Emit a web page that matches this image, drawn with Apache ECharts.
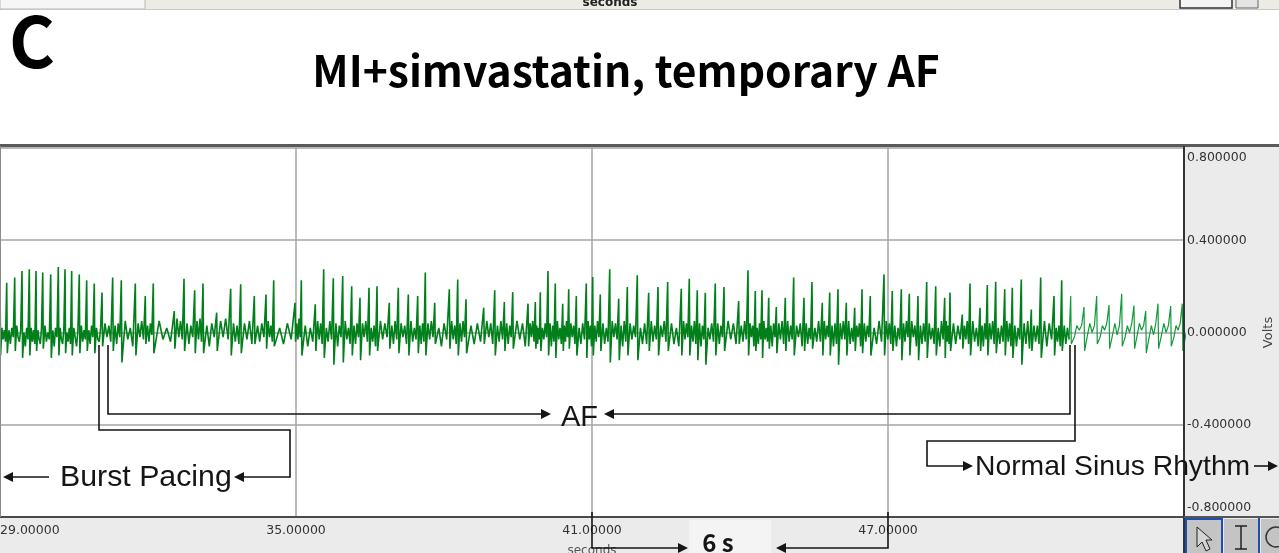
<!DOCTYPE html>
<html><head><meta charset="utf-8">
<script src="https://cdn.jsdelivr.net/npm/echarts@6/dist/echarts.min.js"></script>
<style>html,body{margin:0;padding:0;background:#fff;}#c{width:1279px;height:553px;}</style>
</head><body><div id="c"></div>
<script>
// ---------------- DATA ----------------
const titleText = 'MI+simvastatin, temporary AF';
const panelLetter = 'C';
const xTickLabels = {29:'29.00000', 35:'35.00000', 41:'41.00000', 47:'47.00000', 53:'53.00000'};
const yTickLabels = {'0.8':'0.800000','0.4':'0.400000','0':'0.000000','-0.4':'-0.400000','-0.8':'-0.800000'};
const sinusStart = 50.65; // seconds, start of normal sinus rhythm

// beat (spike) times, seconds
const beatTime = [
 29.000,29.136,29.298,29.446,29.594,29.730,29.866,30.028,30.182,30.318,30.453,30.607,30.757,30.911,31.068,31.284,31.459,31.743,31.945,32.107,32.533,32.730,32.946,33.115,33.392,33.676,
 33.879,34.155,34.392,34.548,34.980,35.108,35.391,35.561,35.756,35.947,36.129,36.297,36.480,36.642,36.891,37.074,37.277,37.467,37.621,37.812,38.108,38.278,38.446,
 38.805,39.028,39.223,39.393,39.703,39.851,39.952,40.108,40.256,40.406,40.528,40.682,40.884,41.014,41.168,41.359,41.541,41.716,41.918,42.149,42.338,42.534,42.810,42.972,43.134,43.297,
 43.499,43.676,43.973,44.162,44.310,44.446,44.582,44.736,44.918,45.088,45.297,45.459,45.668,45.818,45.986,46.155,46.325,46.473,46.641,46.919,47.087,47.270,47.432,47.608,47.784,47.967,48.149,
 48.257,48.506,48.662,48.865,49.013,49.183,49.366,49.520,49.702,49.905,50.095,50.365,50.521,50.703,50.973,51.230,51.480,51.737,51.986,52.224,52.473,52.730,52.965
];
// spike peak, volts
const beatPeak = [
 0.230,0.216,0.238,0.267,0.274,0.267,0.260,0.252,0.284,0.274,0.267,0.252,0.226,0.212,0.173,0.238,0.226,0.212,0.158,0.212,0.093,0.233,0.183,0.212,0.086,0.190,
 0.209,0.158,0.165,0.226,0.129,0.226,0.122,0.274,0.235,0.245,0.200,0.151,0.194,0.200,0.129,0.194,0.165,0.158,0.260,0.129,0.187,0.230,0.144,
 0.107,0.183,0.132,0.175,0.125,0.132,0.175,0.267,0.212,0.125,0.187,0.158,0.212,0.241,0.165,0.274,0.146,0.197,0.248,0.172,0.197,0.219,0.190,0.233,0.183,0.172,
 0.212,0.197,0.136,0.270,0.180,0.183,0.151,0.110,0.151,0.238,0.151,0.219,0.129,0.173,0.187,0.129,0.107,0.187,0.158,0.252,0.180,0.187,0.168,0.158,0.219,0.200,0.151,
 0.173,0.078,0.212,0.107,0.206,0.220,0.187,0.194,0.230,0.100,0.238,0.158,0.226,0.158,0.110,0.158,0.119,0.168,0.117,0.093,0.125,0.115,0.125
];
// trough after each spike, volts
const beatTrough = [
 -0.10,-0.09,-0.08,-0.11,-0.10,-0.08,-0.07,-0.11,-0.10,-0.09,-0.10,-0.09,-0.08,-0.09,-0.06,-0.08,-0.13,-0.10,-0.05,-0.09,-0.07,-0.08,-0.09,-0.09,-0.08,-0.10,
 -0.09,-0.05,-0.07,-0.06,-0.04,-0.10,-0.08,-0.11,-0.14,-0.13,-0.10,-0.12,-0.10,-0.08,-0.07,-0.09,-0.10,-0.09,-0.10,-0.05,-0.07,-0.10,-0.09,
 -0.05,-0.10,-0.08,-0.07,-0.06,-0.07,-0.08,-0.10,-0.11,-0.08,-0.07,-0.10,-0.11,-0.10,-0.08,-0.13,-0.12,-0.10,-0.12,-0.08,-0.10,-0.08,-0.10,-0.10,-0.12,-0.14,
 -0.10,-0.08,-0.05,-0.10,-0.08,-0.11,-0.07,-0.09,-0.08,-0.10,-0.08,-0.07,-0.10,-0.10,-0.14,-0.10,-0.08,-0.09,-0.10,-0.10,-0.08,-0.12,-0.10,-0.12,-0.11,-0.10,-0.11,
 -0.08,-0.07,-0.10,-0.08,-0.10,-0.09,-0.10,-0.11,-0.14,-0.08,-0.11,-0.10,-0.08,-0.05,-0.08,-0.05,-0.07,-0.06,-0.07,-0.09,-0.07,-0.06,-0.08
];
// baseline deflections between beats (4 per beat), volts
const fibWave = [
 0.02,-0.03,0.01,-0.04, 0.01,-0.05,0.02,-0.02, 0.03,-0.02,-0.04,0.01, 0.00,-0.06,0.02,-0.03, 0.02,-0.04,0.01,-0.05,
 0.01,-0.03,-0.05,0.02, 0.03,-0.04,0.00,-0.03, 0.01,-0.06,0.02,-0.02, 0.02,-0.03,-0.05,0.01, 0.00,-0.04,0.02,-0.05,
 0.02,-0.02,-0.06,0.01, 0.03,-0.04,0.01,-0.03, 0.01,-0.05,0.03,-0.02, 0.02,-0.03,-0.04,0.02, 0.04,-0.02,0.03,-0.04,
 0.03,-0.05,0.04,-0.02, 0.05,-0.03,0.02,-0.06, 0.04,-0.02,0.05,-0.03, 0.03,-0.04,0.04,-0.01, 0.05,-0.03,0.02,-0.04,
 0.06,-0.02,0.05,-0.03, 0.04,-0.05,0.03,-0.02, 0.05,-0.03,0.06,-0.04, 0.03,-0.06,0.04,-0.02, 0.05,-0.02,0.06,-0.03,
 0.04,-0.04,0.03,-0.05,
 0.04,-0.03,0.05,-0.05, 0.03,-0.04,0.04,-0.02, 0.05,-0.02,0.03,-0.04, 0.02,-0.05,0.04,-0.03, 0.04,-0.03,0.06,-0.02,
 0.03,-0.06,0.02,-0.04, 0.05,-0.03,0.04,-0.05, 0.02,-0.04,0.05,-0.03, 0.04,-0.06,0.03,-0.02, 0.05,-0.03,0.02,-0.05,
 0.03,-0.05,0.04,-0.02, 0.04,-0.02,0.05,-0.04, 0.02,-0.04,0.03,-0.06, 0.05,-0.03,0.04,-0.02, 0.03,-0.05,0.05,-0.03,
 0.04,-0.02,0.03,-0.05, 0.05,-0.04,0.02,-0.03, 0.03,-0.05,0.04,-0.04, 0.04,-0.03,0.05,-0.02, 0.02,-0.06,0.04,-0.03,
 0.05,-0.03,0.03,-0.05, 0.04,-0.04,0.05,-0.02, 0.03,-0.05,0.04,-0.04,
 0.05,-0.02,0.04,-0.05, 0.03,-0.04,0.05,-0.03, 0.04,-0.05,0.03,-0.02, 0.05,-0.03,0.04,-0.06, 0.04,-0.02,0.05,-0.04,
 0.03,-0.05,0.02,-0.03, 0.02,-0.03,0.04,-0.02, 0.04,-0.06,0.03,-0.04, 0.05,-0.03,0.02,-0.05, 0.03,-0.04,0.05,-0.02,
 0.04,-0.02,0.03,-0.05, 0.02,-0.05,0.04,-0.03, 0.05,-0.03,0.03,-0.06, 0.03,-0.04,0.05,-0.02, 0.04,-0.05,0.02,-0.04,
 0.05,-0.02,0.04,-0.03, 0.03,-0.06,0.05,-0.04, 0.04,-0.03,0.03,-0.02, 0.02,-0.05,0.04,-0.05, 0.05,-0.04,0.03,-0.03,
 0.03,-0.02,0.05,-0.04, 0.04,-0.05,0.02,-0.06, 0.05,-0.03,0.04,-0.02, 0.03,-0.04,0.05,-0.05, 0.04,-0.06,0.03,-0.03,
 0.02,-0.03,0.04,-0.04,
 0.04,-0.05,0.03,-0.02, 0.05,-0.03,0.04,-0.05, 0.03,-0.04,0.05,-0.03, 0.04,-0.02,0.03,-0.06, 0.02,-0.05,0.04,-0.03,
 0.05,-0.03,0.02,-0.04, 0.03,-0.06,0.04,-0.02, 0.04,-0.03,0.05,-0.05, 0.05,-0.04,0.03,-0.03, 0.03,-0.02,0.04,-0.06,
 0.04,-0.05,0.02,-0.03, 0.02,-0.04,0.05,-0.04, 0.05,-0.03,0.03,-0.02, 0.03,-0.06,0.04,-0.05, 0.04,-0.03,0.05,-0.03,
 0.05,-0.05,0.02,-0.04, 0.03,-0.02,0.04,-0.06, 0.04,-0.04,0.03,-0.02, 0.02,-0.05,0.05,-0.04, 0.05,-0.03,0.04,-0.05,
 0.03,-0.06,0.02,-0.03, 0.04,-0.04,0.05,-0.02, 0.05,-0.02,0.03,-0.06, 0.03,-0.05,0.04,-0.04, 0.04,-0.03,0.02,-0.05,
 0.02,-0.06,0.05,-0.03, 0.05,-0.04,0.03,-0.05,
 0.04,-0.05,0.03,-0.03, 0.03,-0.03,0.05,-0.05, 0.05,-0.04,0.02,-0.06, 0.03,-0.06,0.04,-0.03, 0.04,-0.03,0.05,-0.05,
 0.02,-0.05,0.03,-0.04, 0.05,-0.04,0.04,-0.06, 0.03,-0.06,0.02,-0.03, 0.04,-0.05,0.05,-0.07, 0.03,-0.04,0.03,-0.05,
 0.05,-0.06,0.04,-0.03, 0.02,-0.04,0.03,-0.06, 0.03,-0.05,0.02,-0.03,
 -0.02,0.03,0.01,0.03, -0.01,0.04,0.00,0.03, -0.02,0.03,0.01,0.04, -0.01,0.04,-0.01,0.03, -0.02,0.03,0.00,0.04,
 -0.01,0.04,0.01,0.03, -0.02,0.03,-0.01,0.04, -0.01,0.04,0.00,0.03, -0.02,0.03,0.01,0.04, -0.01,0.03,0.00,0.02
];

// ---------------- BUILD ----------------
const afTrace = [], sinusTrace = [];
const nBeats = Math.min(beatTime.length, beatPeak.length, beatTrough.length, Math.floor(fibWave.length/4));
for (let i = 0; i < nBeats; i++) {
  const t = beatTime[i];
  const next = i + 1 < nBeats ? beatTime[i+1] : t + 0.25;
  const gap = next - t;
  const pts = [[t, beatPeak[i]], [t + 0.012, beatTrough[i]]];
  for (let k = 0; k < 4; k++) pts.push([t + gap * (0.28 + 0.18 * k), fibWave[4*i + k]]);
  if (t < sinusStart) afTrace.push(...pts); else sinusTrace.push(...pts);
}
if (afTrace.length) sinusTrace.unshift(afTrace[afTrace.length - 1]);

function fitFont(text, weight, family, targetW) {
  const c = document.createElement('canvas').getContext('2d');
  c.font = weight + ' 100px ' + family;
  return 100 * targetW / c.measureText(text).width;
}
const titleFamily = '"Noto Sans CJK KR", "Noto Sans", sans-serif';
const titleSize = fitFont(titleText, 'bold', titleFamily, 628);
const annFamily = '"Liberation Sans", Arial, sans-serif';
const nsrSize = fitFont('Normal Sinus Rhythm', 'normal', annFamily, 275);
const burstSize = fitFont('Burst Pacing', 'normal', annFamily, 172);
const afSize = fitFont('AF', 'normal', annFamily, 37);

const K = '#151515';
function arrowR(x, y) { return {type:'polygon', z:100, shape:{points:[[x,y],[x-10,y-5],[x-10,y+5]]}, style:{fill:K}}; }
function arrowL(x, y) { return {type:'polygon', z:100, shape:{points:[[x,y],[x+10,y-5],[x+10,y+5]]}, style:{fill:K}}; }
function pl(points, w) { return {type:'polyline', z:100, shape:{points}, style:{stroke:K, lineWidth:w || 1.6, fill:null}}; }
function txt(text, x, y, font, align) {
  return {type:'text', z:100, x, y, style:{text, font, fill:K, align:align || 'left', verticalAlign:'middle'}};
}

const chart = echarts.init(document.getElementById('c'), null, {renderer:'canvas', width:1279, height:553});
chart.setOption({
  animation: false,
  backgroundColor: '#ebebeb',
  grid: {left:0, right:95, top:148, bottom:36, show:true, backgroundColor:'#ffffff', borderWidth:0, containLabel:false, outerBoundsMode:'none'},
  xAxis: {
    type:'value', min:29, max:53, interval:6, position:'bottom',
    axisLine:{show:true, onZero:false, lineStyle:{color:'#4a4a4a', width:2}},
    axisTick:{show:false},
    splitLine:{show:true, lineStyle:{color:'#a4a4a4', width:1.5}},
    axisLabel:{formatter:v => xTickLabels[Math.round(v)] || '', color:'#333', fontFamily:'DejaVu Sans', fontSize:12.5, margin:7, alignMinLabel:'left', showMaxLabel:false},
    name:'seconds', nameLocation:'middle', nameGap:28, nameTextStyle:{color:'#555', fontFamily:'DejaVu Sans', fontSize:12}
  },
  yAxis: {
    type:'value', min:-0.8, max:0.8, interval:0.4, position:'right',
    axisLine:{show:true, onZero:false, lineStyle:{color:'#333', width:2}},
    axisTick:{show:false},
    splitLine:{show:true, lineStyle:{color:'#a4a4a4', width:1.5}},
    axisLabel:{formatter:v => yTickLabels[String(Math.round(v*10)/10)] || '', color:'#333', fontFamily:'DejaVu Sans', fontSize:12.5, margin:3,
      verticalAlignMaxLabel:'top', verticalAlignMinLabel:'bottom', padding:[3,0,3,0]},
    name:'Volts', nameLocation:'middle', nameGap:76, nameRotate:90, nameTextStyle:{color:'#444', fontFamily:'DejaVu Sans', fontSize:13}
  },
  series: [
    {type:'line', data:afTrace, showSymbol:false, symbol:'none', lineStyle:{color:'#007f1a', width:1.6}, z:3, animation:false},
    {type:'line', data:sinusTrace, showSymbol:false, symbol:'none', lineStyle:{color:'#129a3c', width:1.2}, z:3, animation:false}
  ],
  graphic: {elements: [
    // white header area
    {type:'rect', z:-5, shape:{x:0, y:10, width:1279, height:136}, style:{fill:'#ffffff'}},
    // top window strip
    {type:'rect', z:1, shape:{x:0, y:0, width:1279, height:10}, style:{fill:'#ecebe5'}},
    {type:'rect', z:1, shape:{x:0, y:-2, width:145, height:11}, style:{fill:'#f6f6f6', stroke:'#b8b8b8', lineWidth:1}},
    {type:'text', z:2, x:610, y:9, style:{text:'seconds', font:'bold 12px "DejaVu Sans"', fill:'#222', align:'center', verticalAlign:'bottom'}},
    {type:'rect', z:2, shape:{x:1180, y:-3, width:52, height:11}, style:{fill:'#f4f4f4', stroke:'#333', lineWidth:1.5}},
    {type:'rect', z:2, shape:{x:1236, y:-3, width:22, height:11}, style:{fill:'#e4e4e4', stroke:'#666', lineWidth:1}},
    {type:'line', z:2, shape:{x1:0, y1:9.5, x2:1279, y2:9.5}, style:{stroke:'#c8c8c0', lineWidth:1}},
    // letter and title
    {type:'text', z:10, x:9, y:41, style:{text:panelLetter, font:'bold 70px ' + titleFamily, fill:'#000', align:'left', verticalAlign:'middle'}},
    {type:'text', z:10, x:626, y:71, style:{text:titleText, font:'bold ' + titleSize.toFixed(1) + 'px ' + titleFamily, fill:'#000', align:'center', verticalAlign:'middle'}},
    // plot frame
    {type:'line', z:50, shape:{x1:0, y1:145.5, x2:1279, y2:145.5}, style:{stroke:'#5a5a5a', lineWidth:3}},
    {type:'line', z:50, shape:{x1:0.5, y1:146, x2:0.5, y2:517}, style:{stroke:'#8a8a8a', lineWidth:1}},
    {type:'line', z:50, shape:{x1:1184, y1:146, x2:1184, y2:553}, style:{stroke:'#333', lineWidth:2}},
    {type:'line', z:50, shape:{x1:1184, y1:517, x2:1279, y2:517}, style:{stroke:'#555', lineWidth:2}},
    // bottom-right tool buttons
    {type:'rect', z:50, shape:{x:1186, y:519, width:36, height:36}, style:{fill:'#c4c4c4', stroke:'#1f4fae', lineWidth:2}},
    {type:'polygon', z:51, shape:{points:[[1197,527],[1197,547],[1202,542],[1206,551],[1210,549],[1206,540],[1212,540]]}, style:{fill:'#d4d4d4', stroke:'#222', lineWidth:1}},
    {type:'rect', z:50, shape:{x:1224, y:519, width:34, height:36}, style:{fill:'#c4c4c4'}},
    {type:'line', z:51, shape:{x1:1241, y1:526, x2:1241, y2:549}, style:{stroke:'#222', lineWidth:1.5}},
    {type:'line', z:51, shape:{x1:1235, y1:526, x2:1247, y2:526}, style:{stroke:'#222', lineWidth:1.5}},
    {type:'line', z:51, shape:{x1:1235, y1:549, x2:1247, y2:549}, style:{stroke:'#222', lineWidth:1.5}},
    {type:'line', z:51, shape:{x1:1259, y1:518, x2:1259, y2:553}, style:{stroke:'#1f4fae', lineWidth:2}},
    {type:'rect', z:50, shape:{x:1261, y:519, width:18, height:36}, style:{fill:'#c4c4c4'}},
    {type:'circle', z:51, shape:{cx:1276, cy:537, r:10}, style:{fill:null, stroke:'#333', lineWidth:1.5}},
    // annotations: Burst Pacing
    pl([[99,345],[99,430],[290,430],[290,477],[242,477]]),
    arrowL(234, 477),
    pl([[49,477],[12,477]]),
    arrowL(3, 477),
    txt('Burst Pacing', 60, 478, burstSize.toFixed(1) + 'px ' + annFamily),
    // AF
    pl([[108,345],[108,414],[542,414]]),
    arrowR(551, 414),
    txt('AF', 561, 418, afSize.toFixed(1) + 'px ' + annFamily),
    arrowL(604, 414),
    pl([[612,414],[1070,414],[1070,345]]),
    // Normal sinus rhythm
    pl([[1075,345],[1075,441],[927,441],[927,466],[964,466]]),
    arrowR(973, 466),
    txt('Normal Sinus Rhythm', 975, 467, nsrSize.toFixed(1) + 'px ' + annFamily),
    pl([[1254,466],[1268,466]]),
    arrowR(1278, 466),
    // 6 s bracket
    {type:'rect', z:40, shape:{x:689, y:520, width:82, height:33}, style:{fill:'#f4f4f4'}},
    pl([[592,512],[592,548],[679,548]]),
    arrowR(688, 548),
    txt('6 s', 718, 543, 'bold 24px ' + titleFamily, 'center'),
    arrowL(776, 548),
    pl([[785,548],[888,548],[888,512]])
  ]}
});
</script>
</body></html>
